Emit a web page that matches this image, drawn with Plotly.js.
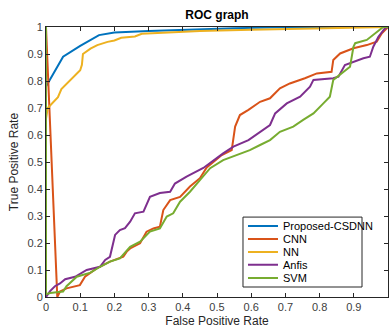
<!DOCTYPE html>
<html><head><meta charset="utf-8">
<script src="https://cdn.plot.ly/plotly-3.0.1.min.js"></script>
<style>html,body{margin:0;padding:0;background:#fff}#c{width:391px;height:329px}</style>
</head><body><div id="c"></div>
<script>
var seriesNames = ["Proposed-CSDNN","CNN","NN","Anfis","SVM"];
var seriesColors = ["#0072BD","#D95319","#EDB120","#7E2F8E","#77AC30"];
var xTicks = [0,0.1,0.2,0.3,0.4,0.5,0.6,0.7,0.8,0.9,1];

var csdnnX = [0,0,0.05,0.1,0.155,0.2,0.3,0.4,0.55,0.7,1];
var csdnnY = [0,0.78,0.89,0.93,0.97,0.98,0.985,0.99,0.995,1,1];

var cnnX = [0,0.033,0.041,0.06,0.099,0.114,0.148,0.187,0.226,0.236,0.246,0.275,0.294,0.314,0.333,0.343,0.363,0.392,0.421,0.45,0.47,0.5,0.514,0.543,0.553,0.567,0.592,0.626,0.655,0.684,0.713,0.757,0.792,0.835,0.84,0.86,0.899,0.938,0.967,0.982,1];
var cnnY = [1,0,0.02,0.032,0.044,0.075,0.106,0.131,0.149,0.168,0.18,0.199,0.242,0.254,0.26,0.322,0.359,0.371,0.409,0.44,0.48,0.51,0.526,0.544,0.631,0.674,0.693,0.723,0.736,0.773,0.791,0.81,0.828,0.834,0.878,0.902,0.921,0.933,0.946,0.977,1];

var nnX = [0,0,0.005,0.02,0.035,0.045,0.06,0.075,0.09,0.1,0.105,0.108,0.13,0.15,0.18,0.2,0.22,0.26,0.28,0.35,0.45,0.6,0.8,1];
var nnY = [0,0.66,0.7,0.72,0.74,0.77,0.79,0.81,0.83,0.84,0.86,0.9,0.92,0.933,0.945,0.95,0.96,0.965,0.975,0.98,0.985,0.99,0.995,1];

var anfisX = [0,0.012,0.026,0.041,0.056,0.085,0.119,0.158,0.173,0.187,0.202,0.216,0.231,0.246,0.26,0.285,0.304,0.333,0.363,0.377,0.411,0.45,0.46,0.518,0.548,0.592,0.626,0.655,0.67,0.704,0.743,0.772,0.782,0.84,0.855,0.874,0.928,0.947,0.957,0.972,0.991,1];
var anfisY = [0,0.022,0.04,0.05,0.066,0.075,0.1,0.112,0.137,0.149,0.23,0.248,0.255,0.279,0.31,0.316,0.371,0.385,0.39,0.42,0.446,0.47,0.478,0.532,0.557,0.581,0.612,0.637,0.68,0.717,0.742,0.779,0.804,0.81,0.816,0.859,0.884,0.89,0.927,0.964,0.995,1];

var svmX = [0,0,0.012,0.05,0.06,0.09,0.13,0.158,0.187,0.216,0.246,0.275,0.304,0.333,0.353,0.372,0.392,0.421,0.45,0.48,0.518,0.567,0.596,0.626,0.655,0.684,0.723,0.752,0.782,0.811,0.83,0.84,0.865,0.889,0.899,0.904,0.938,0.962,0.986,1];
var svmY = [1,0.01,0.015,0.02,0.04,0.075,0.09,0.112,0.131,0.143,0.186,0.205,0.242,0.254,0.298,0.31,0.353,0.39,0.433,0.477,0.507,0.532,0.544,0.563,0.581,0.612,0.631,0.656,0.68,0.717,0.742,0.804,0.828,0.853,0.927,0.94,0.952,0.977,1,1];

var xs = [csdnnX,cnnX,nnX,anfisX,svmX];
var ys = [csdnnY,cnnY,nnY,anfisY,svmY];
var legendIds = ['legend','legend2','legend3','legend4','legend5'];
var traces = seriesNames.map(function(n,i){
  return {x:xs[i], y:ys[i], name:n, type:'scatter', mode:'lines', legend:legendIds[i],
          line:{color:seriesColors[i], width:2}};
});
var ax = {range:[0,1], showgrid:false, zeroline:false, ticks:'inside', ticklen:4,
  tickcolor:'#262626', linecolor:'#262626', linewidth:1, mirror:'ticks', showline:true,
  tickfont:{family:'Liberation Sans, Arial', size:11, color:'#404040'}};
var layout = {
  width:391, height:329, margin:{l:46,r:3,t:27,b:32},
  paper_bgcolor:'#fff', plot_bgcolor:'#fff',
  title:{text:'<b>ROC graph</b>', x:0.555, xanchor:'center', y:0.955, yanchor:'middle',
         font:{family:'Liberation Sans, Arial', size:12, color:'#000'}},
  xaxis:Object.assign({}, ax, {tickvals:xTicks, ticktext:xTicks.map(String),
         title:{text:'False Positive Rate', standoff:4, font:{family:'Liberation Sans, Arial', size:12, color:'#262626'}}}),
  yaxis:Object.assign({}, ax, {tickvals:xTicks, ticktext:xTicks.map(String),
         title:{text:'True Positive Rate', standoff:6, font:{family:'Liberation Sans, Arial', size:12, color:'#262626'}}}),
  showlegend:true,
  shapes:[{type:'rect', xref:'x domain', yref:'y domain', x0:0.576, x1:0.924, y0:0.037, y1:0.296,
           fillcolor:'#fff', line:{color:'#262626', width:1}, layer:'above'}]
};
var itemY = [0.263,0.215,0.167,0.119,0.070];
legendIds.forEach(function(id,i){
  layout[id] = {x:0.576, y:itemY[i], xanchor:'left', yanchor:'middle', bgcolor:'rgba(0,0,0,0)',
    borderwidth:0, itemwidth:30,
    font:{family:'Liberation Sans, Arial', size:11, color:'#000'}};
});
Plotly.newPlot('c', traces, layout, {displayModeBar:false, staticPlot:true});
</script></body></html>
